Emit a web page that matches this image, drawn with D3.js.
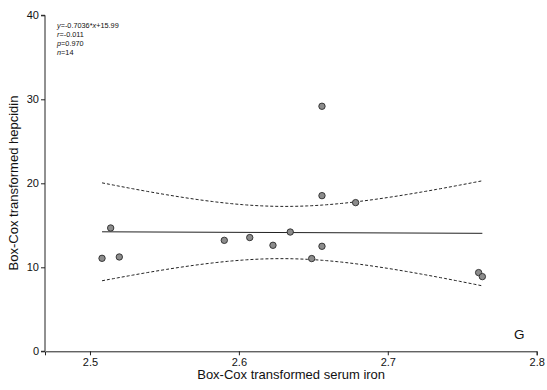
<!DOCTYPE html>
<html>
<head>
<meta charset="utf-8">
<script src="https://cdn.jsdelivr.net/npm/d3@7"></script>
<style>
  html, body { margin: 0; padding: 0; background: #fff; }
  svg { display: block; font-family: Arial, "Liberation Sans", sans-serif; }
</style>
</head>
<body>
<svg id="chart" width="547" height="390"></svg>
<script>
// Box-Cox transformed serum iron (x) and hepcidin (y), one entry per subject
const serumIron = [2.5081, 2.5139, 2.5197, 2.5902, 2.6073, 2.6229, 2.6345,
                   2.6558, 2.6558, 2.6558, 2.6784, 2.6489, 2.7610, 2.7635];
const hepcidin  = [11.07, 14.68, 11.23, 13.21, 13.54, 12.62, 14.20,
                   29.17, 18.53, 12.50, 17.70, 11.04, 9.37, 8.89];

// Reported linear fit
const slope = -0.7036;
const intercept = 15.99;
const statLines = [
  [["y", true], ["=-0.7036*", false], ["x", true], ["+15.99", false]],
  [["r", true], ["=-0.011", false]],
  [["p", true], ["=0.970", false]],
  [["n", true], ["=14", false]]
];

const xTicks = [2.5, 2.6, 2.7, 2.8];
const yTicks = [0, 10, 20, 30, 40];
const panelLetter = "G";

const svg = d3.select("#chart");

const x = d3.scaleLinear().domain([2.4698, 2.8]).range([45, 536.7]);
const y = d3.scaleLinear().domain([0, 40]).range([351.3, 15.3]);

// 95% confidence band of the fitted mean
const n = serumIron.length;
const xMean = d3.mean(serumIron);
const sxx = d3.sum(serumIron, v => (v - xMean) ** 2);
const fit = v => intercept + slope * v;
const sse = d3.sum(serumIron, (v, i) => (hepcidin[i] - fit(v)) ** 2);
const s = Math.sqrt(sse / (n - 2));
const tCrit = 2.179; // t(0.975, df = 12)
const [xMin, xMax] = d3.extent(serumIron);
const grid = d3.range(0, 101).map(k => xMin + (xMax - xMin) * k / 100);
const half = v => tCrit * s * Math.sqrt(1 / n + (v - xMean) ** 2 / sxx);

const line = d3.line().x(d => x(d[0])).y(d => y(d[1]));

// axes
const yAxis = svg.append("g")
  .attr("transform", `translate(${x.range()[0]},0)`)
  .call(d3.axisLeft(y).tickValues(yTicks).tickSize(4).tickPadding(2));
const xAxis = svg.append("g")
  .attr("transform", `translate(0,${y(0)})`)
  .call(d3.axisBottom(x).tickValues(xTicks).tickFormat(d3.format(".1f")).tickSize(4).tickPadding(3));
[yAxis, xAxis].forEach(g => {
  g.select(".domain").attr("stroke", "#222").attr("stroke-width", 1);
  g.selectAll(".tick line").attr("stroke", "#222");
  g.selectAll("text").attr("font-size", 11).attr("fill", "#111")
    .attr("font-family", "Arial, 'Liberation Sans', sans-serif");
});
yAxis.select(".domain").attr("d", `M-4,${y(0)}H0V${y(40)}H-4`);

// confidence band
svg.append("path")
  .attr("d", line(grid.map(v => [v, fit(v) + half(v)])))
  .attr("fill", "none").attr("stroke", "#222").attr("stroke-width", 1)
  .attr("stroke-dasharray", "3,2");
svg.append("path")
  .attr("d", line(grid.map(v => [v, fit(v) - half(v)])))
  .attr("fill", "none").attr("stroke", "#222").attr("stroke-width", 1)
  .attr("stroke-dasharray", "3,2");

// regression line
svg.append("path")
  .attr("d", line([[xMin, fit(xMin)], [xMax, fit(xMax)]]))
  .attr("fill", "none").attr("stroke", "#222").attr("stroke-width", 1);

// data points
svg.append("g").selectAll("circle")
  .data(serumIron.map((v, i) => [v, hepcidin[i]]))
  .join("circle")
  .attr("cx", d => x(d[0]))
  .attr("cy", d => y(d[1]))
  .attr("r", 3.2)
  .attr("fill", "#8c8c8c")
  .attr("stroke", "#2a2a2a")
  .attr("stroke-width", 0.9);

// statistics block
const stats = svg.append("g").attr("font-size", 7.3).attr("fill", "#111");
statLines.forEach((parts, i) => {
  const t = stats.append("text").attr("x", 57).attr("y", 27.5 + i * 9);
  parts.forEach(([str, it]) => {
    t.append("tspan").text(str).attr("font-style", it ? "italic" : "normal");
  });
});

// axis titles
svg.append("text")
  .attr("x", (x.range()[0] + x.range()[1]) / 2 + 0.3)
  .attr("y", 379)
  .attr("text-anchor", "middle")
  .attr("font-size", 13)
  .attr("fill", "#111")
  .text("Box-Cox transformed serum iron");
svg.append("text")
  .attr("transform", `translate(18,183) rotate(-90)`)
  .attr("text-anchor", "middle")
  .attr("font-size", 13)
  .attr("fill", "#111")
  .text("Box-Cox transformed hepcidin");

// panel letter
svg.append("text")
  .attr("x", 519.3)
  .attr("y", 338.5)
  .attr("text-anchor", "middle")
  .attr("font-size", 13.5)
  .attr("fill", "#111")
  .text(panelLetter);
</script>
</body>
</html>
